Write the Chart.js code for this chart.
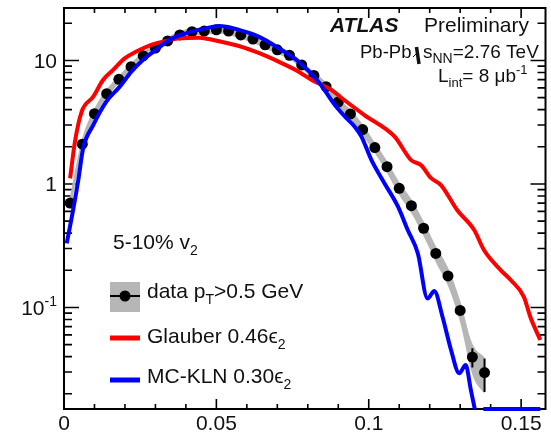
<!DOCTYPE html>
<html>
<head>
<meta charset="utf-8">
<script src="https://cdn.jsdelivr.net/npm/chart.js@4.4.1/dist/chart.umd.min.js"></script>
<style>
  html, body { margin: 0; padding: 0; background: #fff; }
  canvas { display: block; }
</style>
</head>
<body>
<canvas id="v2Chart" width="551" height="432"></canvas>
<script>
// ATLAS data, 5-10% centrality, v2 distribution
const dataX = [0.002, 0.006, 0.010, 0.014, 0.018, 0.022, 0.026, 0.030, 0.034, 0.038,
  0.042, 0.046, 0.050, 0.054, 0.058, 0.062, 0.066, 0.070, 0.074, 0.078,
  0.082, 0.086, 0.090, 0.094, 0.098, 0.102, 0.106, 0.110, 0.114, 0.118,
  0.122, 0.126, 0.130, 0.134, 0.138];
const dataY = [0.70, 2.10, 3.71, 5.38, 7.04, 8.91, 10.9, 12.6, 14.4, 16.1,
  17.1, 17.3, 17.7, 17.3, 16.1, 14.9, 13.4, 12.2, 11.0, 9.2,
  7.56, 6.14, 4.61, 3.69, 2.76, 1.97, 1.38, 0.923, 0.667, 0.438,
  0.274, 0.180, 0.0946, 0.0397, 0.0297];
// relative systematic uncertainty (grey band)
const dataSys = [0.15, 0.12, 0.10, 0.09, 0.07, 0.07, 0.07, 0.07, 0.07, 0.07,
  0.07, 0.07, 0.07, 0.07, 0.07, 0.07, 0.07, 0.07, 0.07, 0.07,
  0.07, 0.08, 0.08, 0.09, 0.10, 0.10, 0.11, 0.12, 0.13, 0.14,
  0.15, 0.17, 0.20, 0.28, 0.33];
// statistical error (only visible on the last points)
const dataStat = [0, 0, 0, 0, 0, 0, 0, 0, 0, 0,
  0, 0, 0, 0, 0, 0, 0, 0, 0, 0,
  0, 0, 0, 0, 0, 0, 0, 0, 0, 0,
  0, 0, 0, 0.007, 0.009];

// Glauber 0.46 eps2
const glauberX = [0.0020, 0.0036, 0.0058, 0.0096, 0.0128, 0.0161, 0.0199, 0.0237, 0.0280, 0.0324,
  0.0378, 0.0443, 0.0476, 0.0509, 0.0574, 0.0639, 0.0704, 0.0770, 0.0813, 0.0878,
  0.0911, 0.0987, 0.1085, 0.1139, 0.1172, 0.1204, 0.1237, 0.1290, 0.1346, 0.1378,
  0.1433, 0.1466, 0.1509, 0.1530, 0.1563];
const glauberY = [1.11, 2.20, 3.85, 5.09, 6.95, 8.38, 10.4, 11.8, 13.2, 14.2,
  15.1, 15.3, 14.9, 14.3, 13.1, 11.5, 9.78, 8.12, 6.95, 5.77,
  4.97, 3.60, 2.42, 1.56, 1.42, 1.12, 0.98, 0.616, 0.424, 0.292,
  0.201, 0.167, 0.122, 0.0842, 0.0545];

// MC-KLN 0.30 eps2 (0 = empty bin, drawn on the axis floor)
const klnX = [0.0009, 0.0030, 0.0047, 0.0063, 0.0096, 0.0139, 0.0183, 0.0221, 0.0259, 0.0302,
  0.0346, 0.0400, 0.0465, 0.0509, 0.0574, 0.0639, 0.0704, 0.0770, 0.0835, 0.0889,
  0.0922, 0.0954, 0.0976, 0.1009, 0.1052, 0.1096, 0.1128, 0.1161, 0.1193, 0.1215,
  0.1242, 0.1270, 0.1297, 0.1318, 0.1335, 0.1348, 0.1362, 0.1376, 0.1563];
const klnY = [0.331, 0.616, 1.08, 1.95, 3.0, 4.64, 6.14, 8.12, 10.1, 12.2,
  14.7, 16.6, 18.2, 19.0, 17.7, 15.6, 12.6, 9.78, 6.73, 4.36,
  3.51, 2.91, 2.42, 1.56, 1.01, 0.655, 0.424, 0.275, 0.118, 0.136,
  0.0842, 0.0453, 0.0293, 0.0342, 0.0215, 0, null, 0, 0];

const xTicks = [0, 0.05, 0.1, 0.15];
const xTickLabels = ['0', '0.05', '0.1', '0.15'];
const yTicks = [0.1, 1, 10];
const yTickLabels = [['10', '-1'], ['1', ''], ['10', '']];

const X_MAX = 0.158;
const Y_MIN = 0.01507;
const Y_MAX = 26.6;
const FONT = '"Liberation Sans", Arial, Helvetica, sans-serif';
const BAND = '#b6b6b6';

const pts = (xs, ys) => xs.map((x, i) => ({ x: x, y: ys[i] === 0 ? Y_MIN : ys[i] }));

function drawRuns(ctx, x, y, parts) {
  let cx = x;
  parts.forEach(p => {
    ctx.font = (p[3] || '') + ' ' + p[1] + 'px ' + FONT;
    ctx.fillText(p[0], cx, y + (p[2] || 0));
    cx += ctx.measureText(p[0]).width;
  });
  return cx;
}
function runsWidth(ctx, parts) {
  let w = 0;
  parts.forEach(p => {
    ctx.font = (p[3] || '') + ' ' + p[1] + 'px ' + FONT;
    w += ctx.measureText(p[0]).width;
  });
  return w;
}

// frame + inward ticks, ROOT style
const frame = {
  id: 'frame',
  beforeDatasetsDraw(chart) {
    const { ctx, chartArea: a, scales: { x, y } } = chart;
    ctx.save();
    ctx.strokeStyle = '#000';
    ctx.lineWidth = 2;
    ctx.strokeRect(a.left, a.top, a.right - a.left, a.bottom - a.top);
    ctx.lineWidth = 1.6;
    ctx.beginPath();
    for (let i = 0; i <= 15; i++) {
      const px = x.getPixelForValue(i / 100);
      const len = i % 5 === 0 ? 10 : 5;
      ctx.moveTo(px, a.bottom); ctx.lineTo(px, a.bottom - len);
      ctx.moveTo(px, a.top); ctx.lineTo(px, a.top + len);
    }
    for (let e = -2; e <= 1; e++) {
      for (let m = 1; m <= 9; m++) {
        const v = m * Math.pow(10, e);
        if (v < Y_MIN || v > Y_MAX) continue;
        const py = y.getPixelForValue(v);
        const len = m === 1 ? 15 : 8;
        ctx.moveTo(a.left, py); ctx.lineTo(a.left + len, py);
        ctx.moveTo(a.right, py); ctx.lineTo(a.right - len, py);
      }
    }
    ctx.stroke();
    ctx.restore();
  },
  afterDatasetsDraw(chart) {
    const { ctx, scales: { x, y } } = chart;
    ctx.save();
    ctx.strokeStyle = '#000';
    ctx.lineWidth = 2;
    ctx.beginPath();
    dataStat.forEach((s, i) => {
      if (!s) return;
      const px = x.getPixelForValue(dataX[i]);
      ctx.moveTo(px, y.getPixelForValue(dataY[i] + s));
      ctx.lineTo(px, y.getPixelForValue(dataY[i] - s));
    });
    ctx.stroke();
    ctx.restore();
  }
};

// tick labels, legend and ATLAS labels
const texts = {
  id: 'texts',
  afterDraw(chart) {
    const { ctx, scales: { x, y } } = chart;
    ctx.save();
    ctx.fillStyle = '#111';
    ctx.textBaseline = 'alphabetic';

    ctx.font = '21px ' + FONT;
    ctx.textAlign = 'center';
    xTicks.forEach((v, i) => ctx.fillText(xTickLabels[i], x.getPixelForValue(v), 430));
    ctx.textAlign = 'left';
    yTicks.forEach((v, i) => {
      const parts = [[yTickLabels[i][0], 21, 0], [yTickLabels[i][1], 14, -9]];
      const w = runsWidth(ctx, parts);
      drawRuns(ctx, 57 - w, y.getPixelForValue(v) + 7.5, parts);
    });

    // legend
    drawRuns(ctx, 113, 249, [['5-10% v', 21, 0], ['2', 14, 6]]);
    ctx.fillStyle = BAND;
    ctx.fillRect(110, 282, 30, 30);
    ctx.strokeStyle = '#000';
    ctx.lineWidth = 2;
    ctx.beginPath(); ctx.moveTo(110, 296); ctx.lineTo(140, 296); ctx.stroke();
    ctx.fillStyle = '#000';
    ctx.beginPath(); ctx.arc(125, 296, 5.5, 0, Math.PI * 2); ctx.fill();
    ctx.lineWidth = 5;
    ctx.strokeStyle = '#ff0000';
    ctx.beginPath(); ctx.moveTo(110, 338); ctx.lineTo(140, 338); ctx.stroke();
    ctx.strokeStyle = '#0000ff';
    ctx.beginPath(); ctx.moveTo(110, 380); ctx.lineTo(140, 380); ctx.stroke();
    ctx.fillStyle = '#111';
    drawRuns(ctx, 147, 298, [['data p', 21, 0], ['T', 14, 6], ['>0.5 GeV', 21, 0]]);
    drawRuns(ctx, 147, 343, [['Glauber 0.46', 21, 0], ['\u03F5', 21, 0], ['2', 14, 6]]);
    drawRuns(ctx, 147, 383, [['MC-KLN 0.30', 21, 0], ['\u03F5', 21, 0], ['2', 14, 6]]);

    // experiment labels
    drawRuns(ctx, 330, 32, [['ATLAS', 21, 0, 'italic bold']]);
    drawRuns(ctx, 424, 32, [['Preliminary', 21, 0]]);
    drawRuns(ctx, 360, 58, [['Pb-Pb', 18.5, 0]]);
    ctx.strokeStyle = '#111';
    ctx.lineWidth = 1;
    ctx.beginPath(); ctx.moveTo(413, 57); ctx.lineTo(416, 54); ctx.stroke();
    ctx.lineWidth = 3.5;
    ctx.beginPath(); ctx.moveTo(416.5, 47); ctx.lineTo(419, 64); ctx.stroke();
    drawRuns(ctx, 423, 58, [['s', 19, 0], ['NN', 14, 5], ['=2.76 TeV', 19, 0]]);
    drawRuns(ctx, 438, 82, [['L', 19, 0], ['int', 13, 5], ['= 8 \u03BCb', 19, 0], ['-1', 13, -8]]);
    ctx.restore();
  }
};

const bandHi = dataX.map((x, i) => ({ x: x, y: dataY[i] * (1 + dataSys[i]) }));
const bandLo = dataX.map((x, i) => ({ x: x, y: dataY[i] * (1 - dataSys[i]) }));

const ctx = document.getElementById('v2Chart').getContext('2d');
const v2Chart = new Chart(ctx, {
  type: 'line',
  data: {
    datasets: [
      {
        label: 'MC-KLN 0.30 eps2',
        data: pts(klnX, klnY),
        borderColor: '#0000ff',
        borderWidth: 4,
        pointRadius: 0,
        cubicInterpolationMode: 'monotone',
        clip: { left: 0, top: 0, right: 0, bottom: 4 },
        order: 0
      },
      {
        label: 'Glauber 0.46 eps2',
        data: pts(glauberX, glauberY),
        borderColor: '#ff0000',
        borderWidth: 4,
        pointRadius: 0,
        cubicInterpolationMode: 'monotone',
        order: 1
      },
      {
        label: 'data pT>0.5 GeV',
        data: pts(dataX, dataY),
        showLine: false,
        pointRadius: 5.5,
        pointBackgroundColor: '#000',
        pointBorderWidth: 0,
        order: 2
      },
      {
        label: 'sys hi',
        data: bandHi,
        borderColor: 'rgba(0,0,0,0)',
        pointRadius: 0,
        cubicInterpolationMode: 'monotone',
        fill: false,
        order: 3
      },
      {
        label: 'sys lo',
        data: bandLo,
        borderColor: 'rgba(0,0,0,0)',
        backgroundColor: BAND,
        pointRadius: 0,
        cubicInterpolationMode: 'monotone',
        fill: '-1',
        order: 3
      }
    ]
  },
  options: {
    responsive: false,
    animation: false,
    layout: { padding: { left: 64, right: 3, top: 8, bottom: 23 } },
    plugins: { legend: { display: false }, tooltip: { enabled: false } },
    scales: {
      x: { type: 'linear', min: 0, max: X_MAX, display: false },
      y: { type: 'logarithmic', min: Y_MIN, max: Y_MAX, display: false }
    }
  },
  plugins: [frame, texts]
});
</script>
</body>
</html>
